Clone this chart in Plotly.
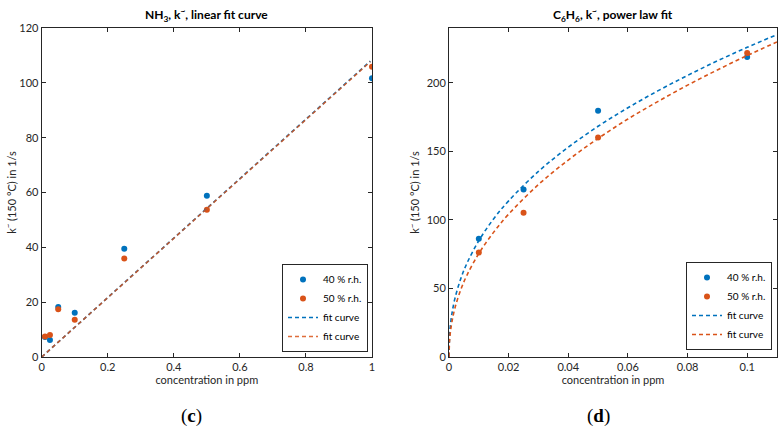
import plotly.graph_objects as go

# ---- Panel (c): NH3 ----
nh3_conc = [0.01, 0.025, 0.05, 0.1, 0.25, 0.5, 1.0]
nh3_40 = [7.3, 6.2, 18.2, 16.1, 39.5, 58.8, 101.7]
nh3_50 = [7.5, 8.0, 17.4, 13.6, 35.9, 53.7, 105.9]
nh3_fit_x = [0.0, 0.995]
nh3_fit_40 = [0.0, 107.9]
nh3_fit_50 = [0.0, 107.7]

# ---- Panel (d): C6H6 ----
c6_conc = [0.01, 0.025, 0.05, 0.1]
c6_40 = [86.2, 122.1, 179.7, 218.8]
c6_50 = [76.2, 105.3, 160.2, 221.7]
c6_fit_x = [0, 0.0002, 0.0005, 0.001, 0.002, 0.004, 0.006, 0.01, 0.015, 0.02,
            0.03, 0.04, 0.05, 0.06, 0.07, 0.08, 0.09, 0.1, 0.11]
c6_fit_40 = [0, 16.1, 23.8, 31.9, 42.8, 57.5, 68.3, 84.9, 100.9, 113.9,
             135.4, 153.0, 168.3, 181.8, 194.1, 205.4, 216.0, 225.9, 235.2]
c6_fit_50 = [0, 12.3, 18.8, 25.9, 35.8, 49.4, 59.6, 75.5, 91.1, 104.2,
             125.8, 143.7, 159.4, 173.6, 186.3, 198.3, 209.4, 219.9, 229.8]

BLUE = "#0072BD"
ORANGE = "#D95319"
FONT = "Lato"
DASH = "4px,3px"

fig = go.Figure()

# left panel
fig.add_trace(go.Scatter(x=nh3_conc, y=nh3_40, mode="markers", name="40 % r.h.",
                         marker=dict(color=BLUE, size=6), xaxis="x", yaxis="y", legend="legend"))
fig.add_trace(go.Scatter(x=nh3_conc, y=nh3_50, mode="markers", name="50 % r.h.",
                         marker=dict(color=ORANGE, size=6), xaxis="x", yaxis="y", legend="legend"))
fig.add_trace(go.Scatter(x=nh3_fit_x, y=nh3_fit_40, mode="lines", name="fit curve",
                         line=dict(color=BLUE, width=1.6, dash=DASH), xaxis="x", yaxis="y", legend="legend"))
fig.add_trace(go.Scatter(x=nh3_fit_x, y=nh3_fit_50, mode="lines", name="fit curve",
                         line=dict(color=ORANGE, width=1.6, dash=DASH), opacity=0.85,
                         xaxis="x", yaxis="y", legend="legend"))

# right panel
fig.add_trace(go.Scatter(x=c6_conc, y=c6_40, mode="markers", name="40 % r.h.",
                         marker=dict(color=BLUE, size=6), xaxis="x2", yaxis="y2", legend="legend2"))
fig.add_trace(go.Scatter(x=c6_conc, y=c6_50, mode="markers", name="50 % r.h.",
                         marker=dict(color=ORANGE, size=6), xaxis="x2", yaxis="y2", legend="legend2"))
fig.add_trace(go.Scatter(x=c6_fit_x, y=c6_fit_40, mode="lines", name="fit curve", line_shape="spline",
                         line=dict(color=BLUE, width=1.6, dash=DASH), xaxis="x2", yaxis="y2", legend="legend2"))
fig.add_trace(go.Scatter(x=c6_fit_x, y=c6_fit_50, mode="lines", name="fit curve", line_shape="spline",
                         line=dict(color=ORANGE, width=1.6, dash=DASH), xaxis="x2", yaxis="y2", legend="legend2"))

axis_common = dict(showline=True, linecolor="#262626", linewidth=1, mirror="ticks",
                   ticks="inside", ticklen=4, tickcolor="#262626", showgrid=False, zeroline=False,
                   automargin=False,
                   tickfont=dict(family=FONT, size=11, color="#262626"))

W, H = 783, 428
top = 1 - 28 / H
bottom = 1 - 357 / H

legend_common = dict(xanchor="right", yanchor="bottom",
                     bordercolor="#262626", borderwidth=1, bgcolor="white",
                     font=dict(family=FONT, size=10, color="#000"), itemwidth=30, tracegroupgap=0)

ann_common = dict(xref="paper", yref="paper", showarrow=False, xanchor="center", yanchor="middle")

fig.update_layout(
    width=W, height=H,
    margin=dict(l=0, r=0, t=0, b=0, pad=0, autoexpand=False),
    paper_bgcolor="white", plot_bgcolor="white",
    font=dict(family=FONT, size=11, color="#262626"),
    showlegend=True,
    xaxis=dict(domain=[41.7 / W, 372 / W], range=[0, 1], tickvals=[0, 0.2, 0.4, 0.6, 0.8, 1],
               ticktext=["0", "0.2", "0.4", "0.6", "0.8", "1"],
               title=dict(text="concentration in ppm", font=dict(family=FONT, size=11), standoff=3),
               anchor="y", **axis_common),
    yaxis=dict(domain=[bottom, top], range=[0, 120], tickvals=[0, 20, 40, 60, 80, 100, 120],
               title=dict(text="k<sup>~</sup> (150 °C) in 1/s", font=dict(family=FONT, size=11), standoff=0),
               anchor="x", **axis_common),
    xaxis2=dict(domain=[449 / W, 777 / W], range=[0, 0.11], tickvals=[0, 0.02, 0.04, 0.06, 0.08, 0.1],
                ticktext=["0", "0.02", "0.04", "0.06", "0.08", "0.1"],
                title=dict(text="concentration in ppm", font=dict(family=FONT, size=11), standoff=3),
                anchor="y2", **axis_common),
    yaxis2=dict(domain=[bottom, top], range=[0, 240], tickvals=[0, 50, 100, 150, 200],
                title=dict(text="k<sup>~</sup> (150 °C) in 1/s", font=dict(family=FONT, size=11), standoff=4),
                anchor="x2", **axis_common),
    legend=dict(x=368 / W, y=1 - 352 / H, **legend_common),
    legend2=dict(x=772 / W, y=1 - 350 / H, **legend_common),
    annotations=[
        dict(text="<b>NH<sub>3</sub>, k<sup>~</sup>, linear fit curve</b>", x=(41.7 + 372) / 2 / W, y=1 - 15 / H,
             font=dict(family=FONT, size=12, color="#000"), **ann_common),
        dict(text="<b>C<sub>6</sub>H<sub>6</sub>, k<sup>~</sup>, power law fit</b>", x=(449 + 777) / 2 / W, y=1 - 15 / H,
             font=dict(family=FONT, size=12, color="#000"), **ann_common),
        dict(text="(<b>c</b>)", x=191 / W, y=1 - 416 / H,
             font=dict(family="Liberation Serif", size=19, color="#000"), **ann_common),
        dict(text="(<b>d</b>)", x=598 / W, y=1 - 416 / H,
             font=dict(family="Liberation Serif", size=19, color="#000"), **ann_common),
    ],
)

fig.write_html("out.html", config={"displayModeBar": False},
               post_script="document.body.style.margin='0';document.body.style.overflow='hidden';")
